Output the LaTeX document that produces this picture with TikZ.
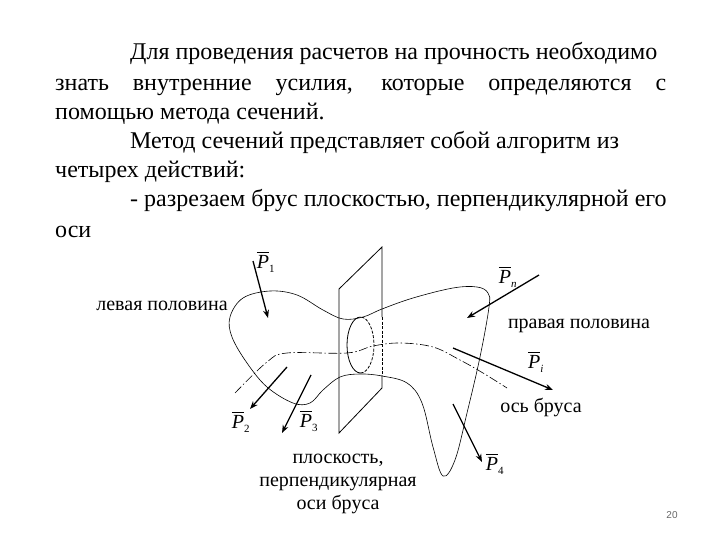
\documentclass[tikz,border=0pt]{standalone}
\usepackage{fontspec}
\setmainfont{Liberation Serif}
\setsansfont{Liberation Sans}
\usetikzlibrary{arrows.meta}

\newcommand{\forcename}[1]{$\overline{\mbox{\rule{0pt}{15pt}\itshape P}}_{\mbox{\fontsize{11}{12}\selectfont #1}}$}

\begin{document}
\begin{tikzpicture}[
    x=1pt, y=-1pt,
    >={Stealth[length=8pt, width=6pt]},
    body/.style   = {line width=0.6pt},
    plane/.style  = {line width=0.8pt},
    hidden/.style = {line width=0.8pt, dash pattern=on 3pt off 1.5pt},
    force/.style  = {->, line width=1.3pt},
    axis/.style   = {line width=0.6pt, dash pattern=on 9pt off 2.5pt on 1.5pt off 2.5pt},
    para/.style   = {anchor=base west, inner sep=0pt, font=\fontsize{24}{28}\selectfont},
    lab/.style    = {inner sep=0pt, align=center, font=\fontsize{20}{23}\selectfont},
    sym/.style    = {inner sep=0pt, font=\fontsize{20}{24}\selectfont}
]
\useasboundingbox (0,0) rectangle (720,540);

% Text above the figure
\node[para] (t1) at (130,60) {Для проведения расчетов на прочность необходимо};
\node[para] (t2) at (55,91) {\makebox[611pt][s]{знать внутренние усилия, которые определяются с}};
\node[para] (t3) at (55,120) {помощью метода сечений.};
\node[para] (t4) at (130,149) {Метод сечений представляет собой алгоритм из};
\node[para] (t5) at (55,178) {четырех действий:};
\node[para] (t6) at (130,207) {- разрезаем брус плоскостью, перпендикулярной его};
\node[para] (t7) at (55,237) {оси};

% Cutting plane
\draw[plane] (339,318) -- (339,289) -- (382,247) -- (382,317);
\draw[hidden] (382,317) -- (382,375);
\draw[plane] (382,375) -- (382,388) -- (339,433) -- (339,318);

% Section of the bar
\draw[plane] (360.5,317) arc[start angle=-90, end angle=-270, x radius=13.5, y radius=28];
\draw[hidden] (360.5,373) arc[start angle=90, end angle=-90, x radius=13.5, y radius=28];

% Outline of the bar
\draw[body] plot[smooth cycle, tension=0.6] coordinates {
    (382,309) (363,317) (343,319) (323,310) (297,295) (270,291) (243,298)
    (230,317) (232,337) (247,363) (267,387) (293,403) (310,403) (323,390)
    (340,377) (360,374) (382,376) (407,383) (422,403) (433,447) (443,476)
    (455,460) (467,413) (480,357) (489,307) (488,293) (477,287) (453,288)
    (413,298)
};

% Axis of the bar
\draw[axis] plot[smooth, tension=0.6] coordinates {
    (235,393) (267,362) (287,353) (347,353) (373,346) (400,343) (433,347)
    (460,360) (483,373) (507,388)
};

% Forces
\draw[force] (253,261) -- (268,318);
\draw[force] (287,367) -- (250,409);
\draw[force] (311,375) -- (282,433);
\draw[force] (453,404) -- (482,462);
\draw[force] (539,275) -- (467,318);
\draw[force] (453,348) -- (553,390);

% Force symbols
\node[sym] (P1) at (266,262) {\forcename{1}};
\node[sym] (P2) at (241,422) {\forcename{2}};
\node[sym] (P3) at (309,421) {\forcename{3}};
\node[sym] (P4) at (495,464) {\forcename{4}};
\node[sym] (Pn) at (508,277) {\forcename{\itshape n}};
\node[sym] (Pi) at (536,362) {\forcename{\itshape i}};

% Labels
\node[lab] (left)  at (162,306) {левая половина};
\node[lab] (right) at (579,326) {правая половина};
\node[lab] (axisname) at (541,407) {ось бруса};
\node[lab] (planename) at (338,484) {плоскость,\\перпендикулярная\\оси бруса};
\node[inner sep=0pt, font=\sffamily\fontsize{10}{12}\selectfont, text=black!60] (page) at (672,515) {20};
\end{tikzpicture}
\end{document}
